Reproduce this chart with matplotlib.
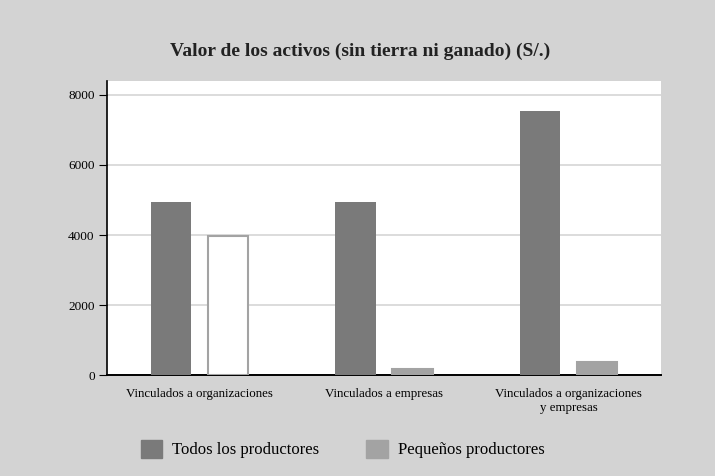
import matplotlib.pyplot as plt
from matplotlib.patches import Patch
import numpy as np

categories = ["Vinculados a organizaciones", "Vinculados a empresas",
              "Vinculados a organizaciones\ny empresas"]
todos = [4950, 4950, 7550]
pequenos = [3970, 170, 370]
yticks = [0, 2000, 4000, 6000, 8000]

bg = "#d3d3d3"
dark = "#7a7a7a"
light = "#a3a3a3"

plt.rcParams["font.family"] = ["Liberation Serif", "DejaVu Serif"]

fig = plt.figure(figsize=(7.15, 4.76), dpi=100, facecolor=bg)
ax = fig.add_axes([0.150, 0.212, 0.774, 0.618])

x = np.arange(len(categories))
w = 0.22
ax.bar(x - 0.155, todos, width=w, color=dark, zorder=3)
# the first "pequeños" bar is drawn hollow in the original
p_colors = ["white", light, light]
p_edges = [light, light, light]
ax.bar(x + 0.155, pequenos, width=w, color=p_colors, edgecolor=p_edges,
       linewidth=1.5, zorder=3)

ax.set_xlim(-0.5, 2.5)
ax.set_ylim(0, 8400)
ax.set_yticks(yticks)
ax.set_yticklabels([str(v) for v in yticks], fontsize=9.5)
ax.set_xticks(x)
ax.set_xticklabels(categories, fontsize=9.3, linespacing=1.25)
ax.tick_params(axis="x", length=0, pad=9)
ax.tick_params(axis="y", length=6, width=0.8, pad=3)
ax.grid(axis="y", color="#d6d6d6", linewidth=1.2, zorder=0)

for s in ["top", "right"]:
    ax.spines[s].set_visible(False)
ax.spines["left"].set_linewidth(1.2)
ax.spines["bottom"].set_linewidth(1.4)

fig.text(0.503, 0.893, "Valor de los activos (sin tierra ni ganado) (S/.)",
         ha="center", va="center", fontsize=14, fontweight="bold",
         color="#222222")

handles = [Patch(color=dark, label="Todos los productores"),
           Patch(color=light, label="Pequeños productores")]
fig.legend(handles=handles, loc="center", bbox_to_anchor=(0.479, 0.057),
           ncol=2, frameon=False, fontsize=12, handlelength=1.3,
           handleheight=1.3, columnspacing=2.8, handletextpad=0.6)

fig.savefig("out.png", dpi=100, facecolor=bg)
